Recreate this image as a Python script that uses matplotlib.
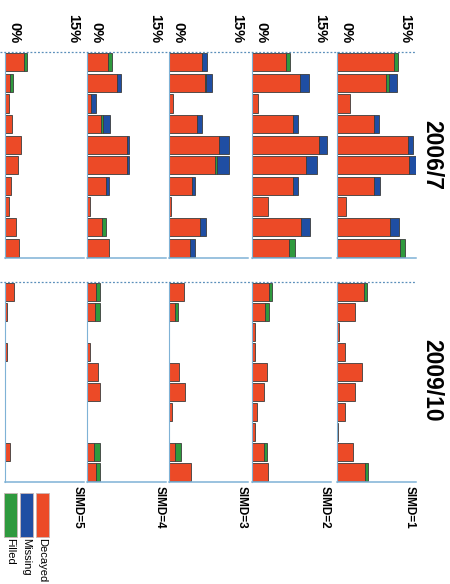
import numpy as np
import matplotlib
matplotlib.use("Agg")
import matplotlib.pyplot as plt
from matplotlib.lines import Line2D
from matplotlib.patches import Rectangle

plt.rcParams['font.family'] = ['Liberation Sans', 'DejaVu Sans']

W, H, DPI = 450, 584, 100

simd_labels = ['SIMD=1', 'SIMD=2', 'SIMD=3', 'SIMD=4', 'SIMD=5']
year_labels = ['2006/7', '2009/10']
tick_labels = ['0%', '15%']
legend_labels = ['Filled', 'Missing', 'Decayed']

# percentages per SIMD quintile (rows SIMD=1..5), ten bars each
decayed_0607 = [
    [10.75, 9.3, 2.5, 7.0, 13.5, 13.7, 7.1, 1.7, 10.1, 12.0],
    [6.5, 9.05, 1.15, 7.8, 12.65, 10.3, 7.8, 3.05, 9.35, 7.0],
    [6.3, 6.8, 0.8, 5.4, 9.4, 8.7, 4.4, 0.4, 5.9, 4.0],
    [4.0, 5.7, 0.8, 2.7, 7.5, 7.5, 3.55, 0.5, 2.9, 4.2],
    [3.6, 0.95, 0.8, 1.3, 3.0, 2.5, 1.1, 0.75, 2.0, 2.7],
]
filled_0607 = [
    [0.75, 0.6, 0, 0, 0, 0, 0, 0, 0, 0.9],
    [0.65, 0, 0, 0, 0, 0, 0, 0, 0, 1.2],
    [0, 0.3, 0, 0, 0, 0.5, 0, 0, 0, 0],
    [0.8, 0, 0, 0.4, 0, 0, 0, 0, 0.8, 0],
    [0.5, 0.5, 0, 0, 0, 0, 0, 0, 0, 0],
]
missing_0607 = [
    [0, 1.5, 0, 1.0, 0.9, 1.35, 1.1, 0, 1.7, 0],
    [0, 1.7, 0, 0.9, 1.65, 2.0, 0.9, 0, 1.75, 0],
    [1.0, 1.0, 0, 0.9, 1.9, 2.1, 0.5, 0, 1.1, 0.9],
    [0, 0.7, 0.85, 1.2, 0.5, 0.5, 0.65, 0, 0, 0],
    [0, 0, 0, 0, 0, 0, 0, 0, 0, 0],
]
decayed_0910 = [
    [5.05, 3.35, 0.45, 1.6, 4.75, 3.35, 1.45, 0.15, 3.0, 5.25],
    [3.15, 2.5, 0.5, 0.5, 2.85, 2.35, 0.95, 0.5, 2.2, 3.0],
    [2.85, 1.15, 0, 0, 1.9, 3.0, 0.65, 0, 1.15, 4.1],
    [1.77, 1.6, 0, 0.5, 2.1, 2.5, 0, 0, 1.27, 1.77],
    [1.7, 0.45, 0, 0.45, 0, 0, 0, 0, 0.95, 0],
]
filled_0910 = [
    [0.65, 0, 0, 0, 0, 0, 0, 0, 0, 0.65],
    [0.65, 0.75, 0, 0, 0, 0, 0, 0, 0.65, 0],
    [0, 0.6, 0, 0, 0, 0, 0, 0, 1.05, 0],
    [0.75, 0.9, 0, 0, 0, 0, 0, 0, 1.25, 0.65],
    [0, 0, 0, 0, 0, 0, 0, 0, 0, 0],
]
missing_0910 = [
    [0, 0, 0, 0, 0, 0, 0, 0, 0, 0],
    [0, 0, 0, 0, 0, 0, 0, 0, 0, 0],
    [0, 0, 0, 0, 0, 0, 0, 0, 0, 0],
    [0, 0, 0, 0, 0, 0, 0, 0, 0, 0],
    [0, 0, 0, 0, 0, 0, 0, 0, 0, 0],
]

C_DEC = '#ec4a27'
C_MIS = '#1f4ea3'
C_FIL = '#2f9a3e'
EDGE = '#3c3c3c'
AXC = '#7fb2d6'

fig = plt.figure(figsize=(W / DPI, H / DPI), dpi=DPI)


def fx(x):
    return x / W


def fy(y):
    return 1 - y / H


# panel geometry in pixels (left edge of each SIMD column)
panel_left = [337, 252, 169, 87, 5]
panel_w = 79
group_rows = [(52, 258), (282, 482)]

datasets = [
    (decayed_0607, filled_0607, missing_0607),
    (decayed_0910, filled_0910, missing_0910),
]


def stack(ax, ypos, vals, left, color):
    vals = np.asarray(vals, float)
    m = vals > 0
    ax.barh(ypos[m], vals[m], left=left[m], height=0.88, color=color,
            edgecolor=EDGE, linewidth=0.6)


for g, (top, bot) in enumerate(group_rows):
    dec_all, fil_all, mis_all = datasets[g]
    for i, x0 in enumerate(panel_left):
        ax = fig.add_axes([fx(x0), fy(bot), fx(panel_w), (bot - top) / H])
        dec = np.asarray(dec_all[i], float)
        fil = np.asarray(fil_all[i], float)
        mis = np.asarray(mis_all[i], float)
        ypos = np.arange(len(dec))
        stack(ax, ypos, dec, np.zeros_like(dec), C_DEC)
        stack(ax, ypos, fil, dec, C_FIL)
        stack(ax, ypos, mis, dec + fil, C_MIS)
        ax.set_xlim(0, 15)
        ax.set_ylim(len(dec) - 0.5, -0.5)
        ax.set_xticks([])
        ax.set_yticks([])
        ax.patch.set_alpha(0)
        for s in ('top', 'right'):
            ax.spines[s].set_visible(False)
        ax.spines['left'].set_color(AXC)
        ax.spines['left'].set_linewidth(0.8)
        ax.spines['bottom'].set_color(AXC)
        ax.spines['bottom'].set_linewidth(1.1)

        if g == 0:
            fig.text(fx(x0 + 2), fy(43), tick_labels[0], rotation=-90,
                     ha='left', va='bottom', fontsize=10.5, fontweight='bold')
            fig.text(fx(x0 + 75), fy(43), tick_labels[1], rotation=-90,
                     ha='right', va='bottom', fontsize=10.5, fontweight='bold')
        else:
            fig.text(fx(x0 + 73), fy(486), simd_labels[i], rotation=-90,
                     ha='center', va='top', fontsize=8.5, fontweight='bold')

# dotted rules across the top of each year block
for top, _ in group_rows:
    fig.add_artist(Line2D([fx(0), fx(416)], [fy(top), fy(top)],
                          transform=fig.transFigure, color='#5a8fba',
                          lw=0.9, ls=(0, (1.5, 1.5))))

# year headings
fig.text(fx(432), fy(155), year_labels[0], rotation=-90, ha='center',
         va='center', fontsize=16.5, fontweight='bold')
fig.text(fx(432), fy(380), year_labels[1], rotation=-90, ha='center',
         va='center', fontsize=16.5, fontweight='bold')

# legend swatches
legend_x = [4, 20, 36]
legend_c = [C_FIL, C_MIS, C_DEC]
for lx, lc, lt in zip(legend_x, legend_c, legend_labels):
    fig.add_artist(Rectangle((fx(lx), fy(537)), fx(13), 44 / H,
                             transform=fig.transFigure, facecolor=lc,
                             edgecolor='#c9b6b6', linewidth=0.6))
    fig.text(fx(lx + 6.5), fy(538), lt, rotation=-90, ha='center',
             va='top', fontsize=8)

fig.savefig('out.png', dpi=DPI)
